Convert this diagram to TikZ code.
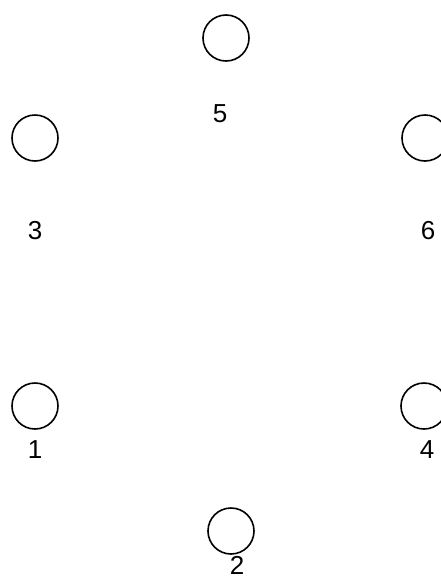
\documentclass[tikz,border=0pt]{standalone}
\usepackage{fontspec}
\setmainfont{Liberation Sans}
\usetikzlibrary{positioning}

\begin{document}
\begin{tikzpicture}[x=1pt,y=-1pt,every node/.style={font=\fontsize{26}{30}\selectfont},
  hole/.style={draw,circle,line width=1.6pt,minimum size=46pt,inner sep=0pt}]
\useasboundingbox (0,0) rectangle (441,579);
% circles
\node[hole] (c5) at (226,38) {};
\node[hole] (c3) at (35,138) {};
\node[hole] (c6) at (425,138) {};
\node[hole] (c1) at (35,406) {};
\node[hole] (c4) at (424,406) {};
\node[hole] (c2) at (231,531) {};
% labels
\node (l5) at (220,114) {5};
\node (l3) at (35,231) {3};
\node (l6) at (428,231) {6};
\node (l1) at (35,450) {1};
\node (l4) at (427,450) {4};
\node (l2) at (237,565) {2};
\end{tikzpicture}
\end{document}
